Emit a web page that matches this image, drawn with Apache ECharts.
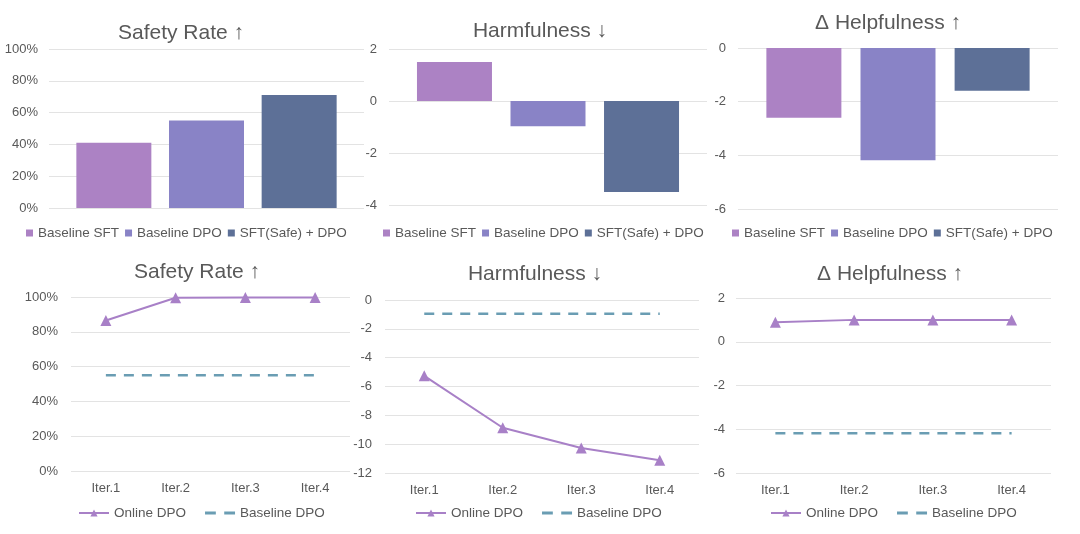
<!DOCTYPE html>
<html><head><meta charset="utf-8">
<script src="https://cdn.jsdelivr.net/npm/echarts@6/dist/echarts.min.js"></script>
<style>html,body{margin:0;padding:0;background:#fff}#c{width:1080px;height:534px}</style>
</head><body><div id="c"></div>
<script>
// ---- data ----
const barCategories = ['Baseline SFT', 'Baseline DPO', 'SFT(Safe) + DPO'];
const safetyBars = [41, 55, 71];
const harmBars = [1.5, -0.97, -3.5];
const helpBars = [-2.6, -4.18, -1.59];

const iterations = ['Iter.1', 'Iter.2', 'Iter.3', 'Iter.4'];
const safetyOnline = [86.5, 99.6, 99.7, 99.7];
const safetyBaseline = [55, 55, 55, 55];
const harmOnline = [-5.26, -8.86, -10.27, -11.12];
const harmBaseline = [-0.95, -0.95, -0.95, -0.95];
const helpOnline = [0.89, 1.0, 1.0, 1.0];
const helpBaseline = [-4.18, -4.18, -4.18, -4.18];

const titles = ['Safety Rate \u2191', 'Harmfulness \u2193', '\u0394 Helpfulness \u2191'];
const lineNames = ['Online DPO', 'Baseline DPO'];

// ---- styles ----
const FONT = 'Liberation Sans, Arial, sans-serif';
const barColors = ['#AC82C4', '#8983C6', '#5D7097'];
const onlineColor = '#A880C7';
const baselineColor = '#6A9DB3';
const textColor = '#595959';
const gridColor = '#E3E3E3';
const LINE_TAG = ' \u00b7line';
const DASH_ICON = 'path://M0,0H9V2.6H0Z M16,0H25V2.6H16Z';

// frame grids (0-5): y labels + gridlines; bar grids (6-8): bars only
const frames = [
  {left: 49, top: 49, width: 315, height: 159},
  {left: 389, top: 49, width: 318, height: 156},
  {left: 738, top: 48, width: 320, height: 161},
  {left: 71, top: 297, width: 279, height: 174},
  {left: 385, top: 300, width: 314, height: 173},
  {left: 736, top: 298, width: 315, height: 175}
];
const barGrids = frames.slice(0, 3).map(f => {
  const u = f.width / 3.4;
  return {left: f.left + 0.2 * u, top: f.top, width: 3 * u, height: f.height};
});
const grids = frames.concat(barGrids).map(g => Object.assign({outerBoundsMode: 'none', containLabel: false}, g));

const yRanges = [
  {min: 0, max: 100, interval: 20, pct: true},
  {min: -4, max: 2, interval: 2},
  {min: -6, max: 0, interval: 2},
  {min: 0, max: 100, interval: 20, pct: true},
  {min: -12, max: 0, interval: 2},
  {min: -6, max: 2, interval: 2}
];
const yMargins = [11, 12, 12, 13, 13, 11];

const yAxes = yRanges.map((r, i) => ({
  type: 'value', gridIndex: i, min: r.min, max: r.max, interval: r.interval,
  axisLine: {show: false}, axisTick: {show: false},
  splitLine: {show: true, lineStyle: {color: gridColor, width: 1}},
  axisLabel: {color: textColor, fontSize: 13, fontFamily: FONT, margin: yMargins[i],
    formatter: r.pct ? '{value}%' : '{value}'}
}));
for (let i = 0; i < 3; i++) {
  const r = yRanges[i];
  yAxes.push({type: 'value', gridIndex: 6 + i, min: r.min, max: r.max, interval: r.interval, show: false,
    splitLine: {show: false}});
}

const xAxes = [];
for (let i = 0; i < 3; i++) {
  xAxes.push({type: 'category', gridIndex: i, data: barCategories, show: false});
}
for (let i = 3; i < 6; i++) {
  xAxes.push({type: 'category', gridIndex: i, data: iterations, boundaryGap: true,
    axisLine: {show: false}, axisTick: {show: false}, splitLine: {show: false},
    axisLabel: {color: textColor, fontSize: 13, fontFamily: FONT, margin: 11}});
}
for (let i = 0; i < 3; i++) {
  xAxes.push({type: 'category', gridIndex: 6 + i, data: barCategories, boundaryGap: true, show: false});
}

const series = [];
const barSets = [safetyBars, harmBars, helpBars];
barSets.forEach((vals, gi) => {
  barCategories.forEach((name, ci) => {
    series.push({
      type: 'bar', name: name, xAxisIndex: 6 + gi, yAxisIndex: 6 + gi,
      data: vals.map((v, k) => k === ci ? v : '-'), barWidth: 75, barGap: '-100%',
      itemStyle: {color: barColors[ci]}, emphasis: {disabled: true}
    });
  });
});
const lineSets = [[safetyOnline, safetyBaseline], [harmOnline, harmBaseline], [helpOnline, helpBaseline]];
lineSets.forEach((pair, k) => {
  const gi = k + 3;
  series.push({
    type: 'line', name: lineNames[0] + LINE_TAG, xAxisIndex: gi, yAxisIndex: gi, data: pair[0],
    symbol: 'triangle', symbolSize: 11, lineStyle: {color: onlineColor, width: 2},
    itemStyle: {color: onlineColor}, emphasis: {disabled: true}
  });
  series.push({
    type: 'line', name: lineNames[1] + LINE_TAG, xAxisIndex: gi, yAxisIndex: gi, data: pair[1],
    symbol: 'none', lineStyle: {color: baselineColor, width: 2.5, type: [10, 8]},
    itemStyle: {color: baselineColor}, emphasis: {disabled: true}
  });
});

const titlePos = [[181, 23], [540, 21], [888, 13], [197, 262], [535, 264], [890, 264]];
const titleOpts = titlePos.map((p, i) => ({
  text: titles[i % 3], left: p[0], top: p[1], textAlign: 'center', padding: 0,
  textStyle: {color: textColor, fontSize: 21, fontWeight: 'normal', fontFamily: FONT}
}));

const legendPos = [[26, 226], [383, 226], [732, 226], [78, 506], [415, 506], [770, 506]];
const legends = legendPos.map((p, i) => i < 3 ? ({
  data: barCategories.map(n => ({name: n, icon: 'rect'})), left: p[0], top: p[1], padding: 0,
  itemWidth: 7, itemHeight: 7, itemGap: 6, selectedMode: false,
  textStyle: {color: textColor, fontSize: 13.5, fontFamily: FONT}
}) : ({
  data: [
    {name: lineNames[0] + LINE_TAG},
    {name: lineNames[1] + LINE_TAG, icon: DASH_ICON}
  ],
  left: p[0], top: p[1], padding: 0, symbolKeepAspect: true,
  itemWidth: 30, itemHeight: 9, itemGap: 19, selectedMode: false,
  formatter: n => n.replace(LINE_TAG, ''),
  textStyle: {color: textColor, fontSize: 13.5, fontFamily: FONT}
}));

const chart = echarts.init(document.getElementById('c'), null, {renderer: 'canvas'});
chart.setOption({
  animation: false,
  backgroundColor: '#fff',
  title: titleOpts,
  legend: legends,
  grid: grids,
  xAxis: xAxes,
  yAxis: yAxes,
  series: series
});
</script></body></html>
